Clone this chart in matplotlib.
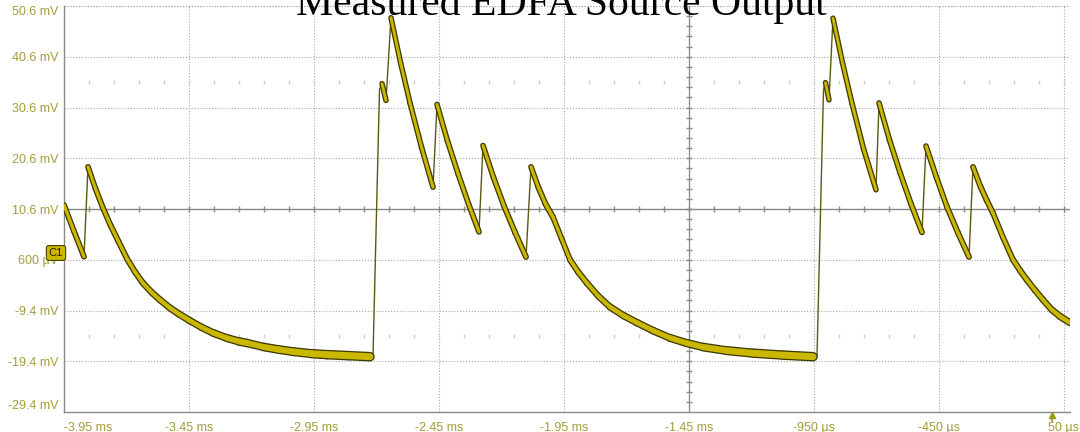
import numpy as np
import matplotlib
matplotlib.use("Agg")
import matplotlib.pyplot as plt
from matplotlib.collections import LineCollection
import matplotlib.transforms as mtransforms

# ---------------- data ----------------
title = "Measured EDFA Source Output"

x_ticks_ms = [-3.95, -3.45, -2.95, -2.45, -1.95, -1.45, -0.95, -0.45, 0.05]
x_tick_labels = ["-3.95 ms", "-3.45 ms", "-2.95 ms", "-2.45 ms", "-1.95 ms",
                 "-1.45 ms", "-950 µs", "-450 µs", "50 µs"]
y_ticks_mv = [50.6, 40.6, 30.6, 20.6, 10.6, 0.6, -9.4, -19.4, -29.4]
y_tick_labels = ["50.6 mV", "40.6 mV", "30.6 mV", "20.6 mV", "10.6 mV",
                 "600 µV", "-9.4 mV", "-19.4 mV", "-29.4 mV"]

time_ms = [
    # tail of previous burst
    -3.950, -3.910, -3.870,
    # decay after 4th pulse
    -3.854, -3.824, -3.794, -3.764, -3.732, -3.698, -3.666, -3.634, -3.600,
    -3.566, -3.526, -3.490, -3.450, -3.400, -3.354, -3.300, -3.250, -3.218,
    -3.150, -3.090, -3.034, -2.960, -2.898, -2.810, -2.726, -2.714,
    # burst 1
    -2.688, -2.678, -2.662,
    -2.642, -2.604, -2.566, -2.520, -2.474,
    -2.458, -2.416, -2.374, -2.332, -2.290,
    -2.274, -2.232, -2.190, -2.146, -2.102,
    -2.082, -2.052, -2.024, -1.994, -1.960, -1.926, -1.892, -1.858, -1.812,
    -1.766, -1.712, -1.658, -1.592, -1.526, -1.460, -1.394, -1.300, -1.194,
    -1.070, -0.954, -0.938,
    # burst 2
    -0.912, -0.904, -0.890,
    -0.874, -0.836, -0.798, -0.752, -0.702,
    -0.690, -0.648, -0.606, -0.562, -0.518,
    -0.502, -0.460, -0.418, -0.374, -0.330,
    -0.314, -0.284, -0.260, -0.234, -0.194, -0.154, -0.126, -0.098, -0.066,
    -0.034, 0.000, 0.035, 0.074]
voltage_mv = [
    11.4, 6.2, 1.2,
    18.9, 14.6, 10.8, 7.4, 4.2, 0.8, -1.8, -4.0, -5.8,
    -7.3, -8.9, -10.1, -11.3, -12.7, -13.8, -14.8, -15.5, -15.8,
    -16.6, -17.1, -17.5, -17.9, -18.1, -18.3, -18.5, -18.5,
    34.2, 35.3, 32.0,
    48.3, 39.5, 31.5, 22.8, 14.9,
    31.2, 24.0, 17.6, 11.6, 6.1,
    23.1, 16.8, 11.2, 6.0, 1.15,
    18.9, 14.8, 11.6, 9.0, 4.8, 0.6, -1.9, -4.0, -6.6,
    -8.7, -10.4, -11.8, -13.4, -14.8, -15.8, -16.6, -17.3, -17.8,
    -18.2, -18.5, -18.5,
    34.2, 35.5, 32.1,
    48.2, 39.4, 31.4, 22.5, 14.4,
    31.5, 24.2, 17.8, 11.6, 6.0,
    23.0, 16.8, 11.0, 5.9, 1.15,
    18.9, 15.0, 12.4, 9.8, 5.0, 0.6, -1.5, -3.4, -5.4,
    -7.3, -9.2, -10.6, -11.8]

# ---------------- style ----------------
W, H = 1080, 432
label_color = "#a39d3a"
grid_color = "#a8a8a8"
axis_gray = "#8a8a8a"
trace_dark = "#3f3a00"
trace_yellow = "#c9b700"

fig = plt.figure(figsize=(W / 100, H / 100), dpi=100)
fig.patch.set_facecolor("white")

left_px, right_px, top_px, bottom_px = 64, 1070, 6, 412
ax = fig.add_axes([left_px / W, 1 - bottom_px / H,
                   (right_px - left_px) / W, (bottom_px - top_px) / H])
ax.set_xlim(-3.95, 0.074)
ax.set_ylim(-29.4, 50.6)

for s in ("top", "right"):
    ax.spines[s].set_visible(False)
for s in ("left", "bottom"):
    ax.spines[s].set_color(axis_gray)
    ax.spines[s].set_linewidth(1.0)

ax.set_xticks(x_ticks_ms)
ax.set_xticklabels(x_tick_labels)
ax.set_yticks(y_ticks_mv)
ax.set_yticklabels(y_tick_labels)
ax.tick_params(axis="both", length=0, labelcolor=label_color, labelsize=9)
ax.tick_params(axis="x", pad=7)
ax.tick_params(axis="y", pad=4)
for lab in ax.get_xticklabels() + ax.get_yticklabels():
    lab.set_fontfamily("Liberation Sans")
xl = ax.get_xticklabels()
xl[0].set_ha("left")
yl = ax.get_yticklabels()
yl[0].set_va("top")
yl[-1].set_va("bottom")

# dotted grid
ax.grid(True, color=grid_color, linestyle=(0, (1, 1.6)), linewidth=0.8)
ax.set_axisbelow(True)
ax.axhline(50.6, color=grid_color, linestyle=(0, (1, 1.6)), linewidth=0.8, zorder=0.5)

# centre cross-hair with small ticks
cx, cy = -1.45, 10.6
ax.axhline(cy, color=axis_gray, linewidth=1.0, zorder=1)
ax.axvline(cx, color=axis_gray, linewidth=0.9, zorder=1)
xt = np.arange(-3.85, 0.07, 0.1)
ax.plot(xt, np.full(len(xt), cy), linestyle="none", marker="|",
        markersize=4, color=axis_gray, zorder=1)
yt = np.arange(-27.4, 50.0, 2.0)
ax.plot(np.full(len(yt), cx), yt, linestyle="none", marker="_",
        markersize=4, color=axis_gray, zorder=1)
for lvl in (35.6, -14.4):
    ax.plot(xt, np.full(len(xt), lvl), linestyle="none", marker="|",
            markersize=2.5, color="#cfcfcf", zorder=0.8)

# ---------------- trace ----------------
t = np.asarray(time_ms)
v = np.asarray(voltage_mv)
pts = np.column_stack([t, v])
segs = np.stack([pts[:-1], pts[1:]], axis=1)
fig.canvas.draw()
pix = ax.transData.transform(pts)
dxp = np.diff(pix[:, 0])
dyp = np.diff(pix[:, 1])
slope = np.abs(dyp) / np.maximum(np.abs(dxp), 1e-6)
falling = v[1:] < v[:-1]

outer_px = 5.0 + 5.0 / (1.0 + 2.0 * slope)
inner_px = outer_px - 2.6
f_segs = segs[falling]
r_segs = segs[~falling]

ax.add_collection(LineCollection(r_segs, colors="#5e5810", linewidths=1.0,
                                 zorder=3, capstyle="butt"))
ax.add_collection(LineCollection(f_segs, colors=trace_dark,
                                 linewidths=outer_px[falling] * 0.72, zorder=4,
                                 capstyle="round", joinstyle="round"))
ax.add_collection(LineCollection(f_segs, colors=trace_yellow,
                                 linewidths=inner_px[falling] * 0.72, zorder=5,
                                 capstyle="round", joinstyle="round"))

# trigger marker at t = 0
trans = mtransforms.blended_transform_factory(ax.transData, ax.transAxes)
ax.plot([0.0, 0.0], [-0.006, -0.022], color="#9c9a18", linewidth=1.2,
        transform=trans, clip_on=False, zorder=6)
ax.plot([0.0], [-0.008], marker="^", markersize=5, color="#9c9a18",
        transform=trans, clip_on=False, zorder=6)

# C1 channel marker
fig.text(56 / W, 1 - 253 / H, "C1", ha="center", va="center", fontsize=8,
         fontfamily="Liberation Sans", color="#222200",
         bbox=dict(boxstyle="round,pad=0.22", fc="#c9b700", ec="#4a4400", lw=0.8),
         zorder=10)

# title (partly cut off at top, as in the reference)
fig.text(561 / W, 1 - 15 / H, title, ha="center", va="baseline",
         fontsize=30, fontfamily="Liberation Serif", color="black", zorder=10)

fig.savefig("out.png", dpi=100)
